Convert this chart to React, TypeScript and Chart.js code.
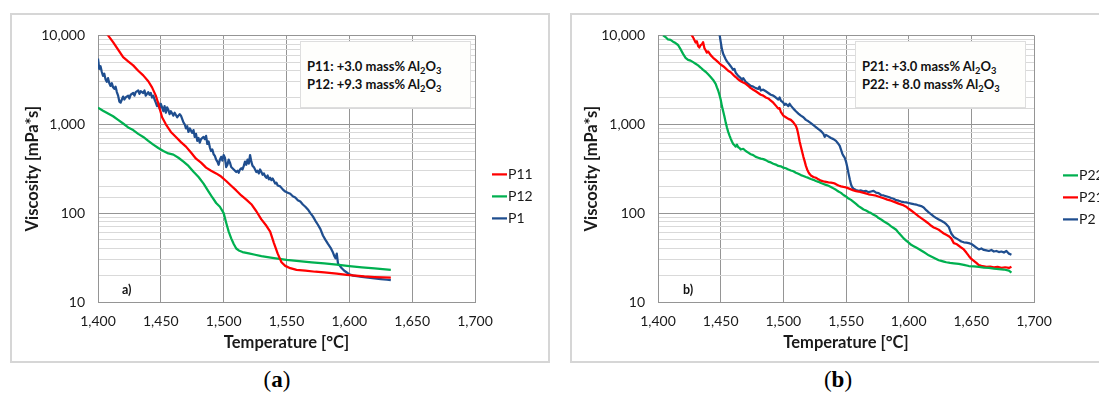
import React, { useEffect, useRef } from 'react';
import { Chart, registerables } from 'chart.js';

Chart.register(...registerables);

// ---------- data (temperature °C, viscosity mPa*s) ----------
const X_TICKS = [1400, 1450, 1500, 1550, 1600, 1650, 1700];
const Y_LABELED = [10, 100, 1000, 10000];

// Panel a)
const P11: [number, number][] = [
  [1405, 11500], [1408, 10000], [1412, 8400], [1416, 6900], [1420, 5700], [1424, 5100], [1428, 4600],
  [1432, 4000], [1436, 3550], [1440, 3050], [1443, 2600], [1446, 2100], [1448, 1700], [1451, 1200],
  [1454, 1000], [1458, 820], [1462, 720], [1466, 630], [1470, 560], [1474, 480], [1478, 410],
  [1482, 370], [1486, 325], [1490, 300], [1494, 280], [1498, 258], [1502, 230], [1506, 203],
  [1510, 180], [1514, 158], [1518, 142], [1522, 126], [1526, 105], [1530, 85], [1534, 72],
  [1537, 62], [1540, 46], [1543, 35], [1546, 28], [1549, 25.5], [1553, 24], [1558, 23],
  [1565, 22.5], [1573, 21.9], [1580, 21.5], [1590, 20.8], [1598, 20.2], [1605, 19.8],
  [1612, 19.4], [1620, 19.1], [1627, 18.9], [1633, 18.8],
];
const P12: [number, number][] = [
  [1400, 1540], [1404, 1420], [1408, 1320], [1412, 1230], [1416, 1120], [1420, 1020], [1424, 920],
  [1428, 860], [1432, 780], [1436, 720], [1440, 650], [1444, 590], [1448, 540], [1452, 500],
  [1456, 470], [1460, 455], [1464, 420], [1468, 380], [1472, 340], [1476, 292], [1480, 255],
  [1484, 215], [1488, 175], [1491, 150], [1494, 130], [1497, 118], [1500, 100], [1502, 78],
  [1504, 62], [1506, 52], [1508, 45], [1510, 40], [1512, 38], [1515, 36.5], [1520, 35.2],
  [1525, 34], [1530, 32.8], [1540, 31.2], [1550, 29.8], [1560, 28.9], [1570, 28], [1580, 27.2],
  [1590, 26.3], [1600, 25.4], [1610, 24.6], [1620, 23.9], [1633, 23],
];
const P1: [number, number][] = [
  [1400, 5480], [1401, 4200], [1402, 4500], [1403, 3900], [1404, 3500], [1405, 3700], [1406, 3200],
  [1407, 3000], [1408, 3300], [1409, 2900], [1410, 2700], [1411, 2900], [1412, 2600], [1413, 2500],
  [1414, 2650], [1415, 2300], [1416, 2100], [1417, 1800], [1418, 1750], [1419, 1900], [1420, 2050],
  [1421, 1900], [1422, 2000], [1424, 2100], [1425, 1950], [1426, 2150], [1428, 2250], [1429, 2100],
  [1430, 2300], [1432, 2400], [1433, 2200], [1434, 2350], [1436, 2250], [1437, 2400], [1438, 2100],
  [1440, 2300], [1441, 2150], [1442, 2250], [1443, 2000], [1444, 2100], [1445, 1900], [1446, 1750],
  [1447, 1600], [1448, 1750], [1449, 1500], [1450, 1700], [1451, 1550], [1452, 1400], [1453, 1600],
  [1454, 1350], [1455, 1550], [1456, 1450], [1457, 1300], [1458, 1400], [1460, 1250], [1461, 1350],
  [1463, 1200], [1465, 1300], [1466, 1250], [1468, 1050], [1469, 1000], [1470, 900], [1471, 950],
  [1472, 820], [1473, 900], [1475, 800], [1476, 860], [1477, 720], [1478, 780], [1479, 650],
  [1480, 700], [1481, 620], [1482, 680], [1484, 720], [1485, 680], [1486, 740], [1487, 600],
  [1488, 640], [1489, 550], [1490, 500], [1491, 520], [1492, 460], [1493, 440], [1494, 400],
  [1495, 380], [1496, 350], [1497, 400], [1498, 430], [1499, 390], [1500, 450], [1501, 420],
  [1502, 330], [1503, 350], [1504, 400], [1505, 370], [1506, 330], [1507, 320], [1508, 310],
  [1510, 290], [1511, 300], [1512, 285], [1513, 310], [1514, 320], [1515, 310], [1516, 340],
  [1517, 380], [1518, 350], [1519, 400], [1520, 360], [1521, 450], [1522, 380], [1523, 340],
  [1524, 330], [1525, 310], [1526, 290], [1527, 300], [1528, 280], [1529, 310], [1530, 290],
  [1531, 270], [1532, 280], [1533, 260], [1534, 250], [1535, 265], [1536, 240], [1537, 250],
  [1538, 235], [1539, 245], [1540, 230], [1541, 215], [1542, 220], [1543, 205], [1545, 200],
  [1547, 185], [1549, 175], [1551, 170], [1553, 165], [1555, 155], [1557, 150], [1559, 140],
  [1561, 135], [1563, 125], [1565, 118], [1567, 110], [1569, 100], [1571, 92], [1573, 82],
  [1575, 74], [1577, 66], [1579, 56], [1581, 50], [1583, 45], [1585, 41], [1587, 36], [1588, 33],
  [1589, 31], [1590, 35], [1591, 27], [1592, 26], [1594, 24], [1596, 22.5], [1598, 21.5],
  [1600, 20.5], [1603, 19.8], [1606, 19.5], [1610, 19.2], [1615, 18.8], [1620, 18.4],
  [1625, 18.1], [1630, 17.8], [1633, 17.6],
];

// Panel b)
const P22: [number, number][] = [
  [1404, 10000], [1406, 9600], [1408, 9000], [1410, 8900], [1412, 8500], [1414, 8200], [1416, 7800],
  [1418, 7000], [1420, 6200], [1422, 5600], [1424, 5300], [1426, 5200], [1428, 5000], [1430, 4800],
  [1432, 4600], [1434, 4350], [1436, 4100], [1438, 3900], [1440, 3650], [1442, 3400], [1444, 3150],
  [1446, 2850], [1447, 2600], [1448, 2400], [1449, 2150], [1450, 1900], [1451, 1600], [1452, 1400],
  [1453, 1220], [1454, 1050], [1455, 920], [1456, 820], [1457, 750], [1458, 690], [1459, 640],
  [1460, 600], [1461, 580], [1462, 560], [1463, 590], [1464, 550], [1465, 540], [1466, 520],
  [1468, 530], [1470, 500], [1472, 480], [1474, 460], [1476, 450], [1478, 430], [1480, 420],
  [1482, 410], [1484, 405], [1486, 395], [1488, 380], [1490, 372], [1492, 360], [1494, 352],
  [1496, 340], [1498, 336], [1500, 325], [1502, 320], [1504, 310], [1506, 302], [1508, 296],
  [1510, 285], [1512, 277], [1514, 268], [1516, 262], [1518, 255], [1520, 249], [1522, 242],
  [1524, 237], [1526, 230], [1528, 225], [1530, 218], [1532, 213], [1534, 208], [1536, 203],
  [1538, 197], [1540, 190], [1542, 183], [1544, 175], [1546, 169], [1548, 160], [1550, 154],
  [1552, 146], [1554, 141], [1556, 134], [1558, 127], [1560, 120], [1562, 115], [1564, 110],
  [1566, 107], [1568, 103], [1570, 100], [1572, 96], [1574, 93], [1576, 88], [1578, 85], [1580, 81],
  [1582, 78], [1584, 75], [1586, 71], [1588, 68], [1590, 65], [1592, 60], [1594, 56], [1596, 52],
  [1598, 49], [1600, 46.5], [1602, 44], [1604, 42.5], [1606, 41], [1608, 39.5], [1610, 38],
  [1612, 36.5], [1614, 35], [1616, 33.5], [1618, 32.5], [1620, 31.5], [1622, 30.5], [1624, 29.5],
  [1626, 29], [1628, 28.5], [1630, 28], [1633, 27.5], [1636, 27.2], [1640, 26.8], [1644, 26.2],
  [1648, 25.4], [1652, 25.2], [1656, 24.8], [1660, 24.4], [1664, 24.2], [1668, 23.8],
  [1672, 23.5], [1676, 23.2], [1680, 22.5], [1682, 21.4],
];
const P21: [number, number][] = [
  [1426, 10500], [1428, 9500], [1430, 8300], [1431, 8600], [1432, 7600], [1433, 7300], [1434, 7800],
  [1435, 7900], [1436, 8400], [1437, 7200], [1438, 6800], [1439, 6400], [1440, 6600], [1442, 6000],
  [1444, 5600], [1446, 5300], [1448, 5000], [1450, 4700], [1452, 4500], [1454, 4250], [1456, 4000],
  [1458, 3850], [1460, 3600], [1462, 3400], [1464, 3200], [1466, 3050], [1468, 2950], [1470, 2850],
  [1472, 2700], [1474, 2550], [1476, 2450], [1478, 2350], [1480, 2250], [1482, 2150], [1484, 2100],
  [1486, 2000], [1488, 1950], [1490, 1850], [1492, 1750], [1494, 1620], [1496, 1500], [1497, 1520],
  [1498, 1380], [1500, 1250], [1502, 1200], [1504, 1150], [1506, 1120], [1508, 1050], [1510, 960],
  [1511, 880], [1512, 760], [1513, 640], [1514, 560], [1515, 490], [1516, 430], [1517, 385],
  [1518, 340], [1519, 310], [1520, 290], [1521, 275], [1522, 265], [1524, 255], [1526, 250],
  [1528, 240], [1530, 232], [1532, 228], [1534, 225], [1536, 222], [1538, 220], [1540, 218],
  [1542, 212], [1544, 205], [1546, 200], [1548, 197], [1550, 195], [1552, 190], [1554, 185],
  [1556, 180], [1558, 177], [1560, 175], [1562, 172], [1565, 168], [1568, 163], [1571, 160],
  [1574, 157], [1577, 152], [1580, 147], [1583, 142], [1586, 138], [1589, 133], [1592, 128],
  [1595, 124], [1598, 118], [1600, 112], [1602, 107], [1604, 102], [1606, 97], [1608, 92],
  [1610, 88], [1612, 84], [1614, 80], [1616, 76], [1618, 72], [1620, 69], [1622, 67], [1624, 65],
  [1626, 62], [1628, 59], [1630, 57], [1632, 55], [1634, 52], [1636, 46], [1638, 45], [1640, 43],
  [1642, 41], [1644, 39], [1646, 36], [1648, 33], [1650, 30.5], [1652, 29], [1654, 27.5],
  [1656, 26], [1658, 25.5], [1660, 25.2], [1662, 24.8], [1665, 25], [1668, 24.5], [1671, 24.8],
  [1674, 24.2], [1677, 24.6], [1680, 24.2], [1682, 25],
];
const P2: [number, number][] = [
  [1449, 10500], [1450, 8500], [1451, 7000], [1452, 6200], [1453, 5800], [1454, 5400], [1455, 5100],
  [1456, 4900], [1458, 4500], [1460, 4100], [1461, 4200], [1462, 3800], [1464, 3500], [1466, 3300],
  [1467, 3150], [1468, 3300], [1470, 3000], [1472, 2850], [1474, 2700], [1476, 2650], [1478, 2550],
  [1480, 2500], [1481, 2650], [1482, 2400], [1484, 2450], [1486, 2350], [1488, 2250], [1490, 2150],
  [1492, 2100], [1494, 2000], [1496, 1900], [1497, 2000], [1498, 1850], [1500, 1750], [1501, 1650],
  [1502, 1700], [1504, 1600], [1505, 1700], [1506, 1620], [1508, 1500], [1510, 1400], [1512, 1320],
  [1514, 1250], [1516, 1200], [1518, 1120], [1520, 1080], [1522, 1030], [1524, 980], [1526, 930],
  [1528, 880], [1530, 840], [1532, 780], [1533, 720], [1534, 760], [1536, 730], [1538, 700],
  [1540, 680], [1542, 650], [1544, 600], [1545, 570], [1546, 520], [1547, 470], [1548, 440],
  [1549, 420], [1550, 380], [1551, 330], [1552, 280], [1553, 240], [1554, 210], [1555, 195],
  [1556, 188], [1558, 182], [1560, 178], [1562, 180], [1564, 176], [1566, 178], [1568, 172],
  [1570, 175], [1572, 178], [1574, 170], [1576, 168], [1578, 160], [1580, 158], [1582, 155],
  [1584, 152], [1586, 148], [1588, 145], [1590, 140], [1592, 138], [1594, 135], [1596, 133],
  [1598, 132], [1600, 130], [1602, 128], [1604, 126], [1606, 125], [1608, 122], [1610, 120],
  [1612, 116], [1614, 108], [1616, 102], [1618, 97], [1620, 92], [1622, 88], [1624, 85], [1626, 82],
  [1628, 79], [1630, 75], [1632, 70], [1633, 64], [1634, 59], [1636, 54], [1638, 52], [1640, 50],
  [1642, 48], [1644, 47], [1646, 46.5], [1648, 46], [1650, 45], [1652, 43], [1654, 41], [1656, 39],
  [1658, 40], [1660, 38.5], [1662, 38], [1664, 37.5], [1666, 38.5], [1668, 37], [1670, 37.5],
  [1672, 36.5], [1674, 37], [1676, 36], [1678, 37.5], [1680, 35], [1682, 34],
];

const RED = '#ff0000';
const GREEN = '#00b050';
const BLUE = '#1f4e8f';

const FONT = "Lato, 'Open Sans', sans-serif";
const MAJOR_GRID = '#959595';
const MINOR_GRID = '#d9d9d9';
const TEXT = '#1a1a1a';

const sideLegend = {
  id: 'sideLegend',
  afterDraw(chart: any, _args: any, opts: any) {
    const { ctx, chartArea } = chart;
    const x0 = chartArea.right + opts.dx;
    ctx.save();
    chart.data.datasets.forEach((ds: any, i: number) => {
      const y = chartArea.top + opts.dy + i * 22;
      ctx.strokeStyle = ds.borderColor;
      ctx.lineWidth = 2.25;
      ctx.beginPath();
      ctx.moveTo(x0, y);
      ctx.lineTo(x0 + 15, y);
      ctx.stroke();
      ctx.fillStyle = TEXT;
      ctx.font = `14px ${FONT}`;
      ctx.textBaseline = 'middle';
      ctx.textAlign = 'left';
      ctx.fillText(ds.label, x0 + 16, y + 0.5);
    });
    ctx.restore();
  },
};

type Series = { label: string; data: [number, number][]; color: string };

function makeConfig(series: Series[], yAxisWidth: number, yTitlePad: number, rightPad: number, legend: { dx: number; dy: number }) {
  return {
    type: 'line' as const,
    data: {
      datasets: series.map((s) => ({
        label: s.label,
        data: s.data.map(([x, y]) => ({ x, y })),
        borderColor: s.color,
        backgroundColor: s.color,
        borderWidth: 2.25,
        pointRadius: 0,
        tension: 0,
        borderJoinStyle: 'round' as const,
      })),
    },
    options: {
      responsive: false,
      animation: false as const,
      devicePixelRatio: 1,
      layout: { padding: { left: 0, top: 12, right: rightPad, bottom: 0 } },
      plugins: {
        legend: { display: false },
        tooltip: { enabled: false },
        sideLegend: legend,
      },
      scales: {
        x: {
          type: 'linear' as const,
          min: X_TICKS[0],
          max: X_TICKS[X_TICKS.length - 1],
          afterBuildTicks: (scale: any) => {
            scale.ticks = X_TICKS.map((v) => ({ value: v }));
          },
          afterFit: (scale: any) => {
            scale.height = 60;
          },
          grid: { color: MAJOR_GRID, lineWidth: 1, drawTicks: false },
          border: { display: true, color: MAJOR_GRID, width: 1 },
          ticks: {
            padding: 11,
            color: TEXT,
            font: { family: FONT, size: 14 },
            maxRotation: 0,
            autoSkip: false,
            callback: (v: any) => Number(v).toLocaleString('en-US'),
          },
          title: {
            display: true,
            text: 'Temperature [°C]',
            color: TEXT,
            font: { family: FONT, size: 16.5, weight: 'bold' as const },
            padding: { top: 0, bottom: 9 },
          },
        },
        y: {
          type: 'logarithmic' as const,
          min: Y_LABELED[0],
          max: Y_LABELED[Y_LABELED.length - 1],
          afterFit: (scale: any) => {
            scale.width = yAxisWidth;
          },
          grid: {
            drawTicks: false,
            lineWidth: 1,
            color: (ctx: any) => (ctx.tick && Y_LABELED.includes(ctx.tick.value) ? MAJOR_GRID : MINOR_GRID),
          },
          border: { display: true, color: MAJOR_GRID, width: 1 },
          ticks: {
            padding: 13,
            color: TEXT,
            autoSkip: false,
            font: { family: FONT, size: 14 },
            callback: (v: any) => (Y_LABELED.includes(Number(v)) ? Number(v).toLocaleString('en-US') : ''),
          },
          title: {
            display: true,
            text: 'Viscosity [mPa*s]',
            color: TEXT,
            font: { family: FONT, size: 16.5, weight: 'bold' as const },
            padding: { top: yTitlePad, bottom: 0 },
          },
        },
      },
    },
    plugins: [sideLegend],
  };
}

function ChartCanvas(props: { series: Series[]; left: number; yAxisWidth: number; yTitlePad: number; rightPad: number; legend: { dx: number; dy: number } }) {
  const ref = useRef<HTMLCanvasElement | null>(null);
  useEffect(() => {
    if (!ref.current) return;
    const chart = new Chart(ref.current, makeConfig(props.series, props.yAxisWidth, props.yTitlePad, props.rightPad, props.legend) as any);
    return () => chart.destroy();
  }, []);
  return (
    <canvas
      ref={ref}
      width={538}
      height={348}
      style={{ position: 'absolute', left: props.left, top: 14, width: 538, height: 348 }}
    />
  );
}

const subStyle: React.CSSProperties = { fontSize: '0.72em', verticalAlign: '-0.3em', lineHeight: 0 };

function NoteBox(props: { left: number; lines: [string, string][] }) {
  return (
    <div
      style={{
        position: 'absolute',
        left: props.left,
        top: 41,
        width: 171,
        height: 67,
        boxSizing: 'border-box',
        background: '#fefefc',
        border: '1px solid #dedede',
        padding: '15px 0 0 6px',
        font: `bold 13px ${FONT}`,
        lineHeight: '18px',
        color: '#111',
        whiteSpace: 'nowrap',
      }}
    >
      {props.lines.map(([a, b], i) => (
        <div key={i}>
          {a}: {b} mass% Al<sub style={subStyle}>2</sub>O<sub style={subStyle}>3</sub>
        </div>
      ))}
    </div>
  );
}

export default function App() {
  const frame: React.CSSProperties = {
    position: 'absolute',
    top: 13,
    height: 350,
    boxSizing: 'border-box',
    border: '2px solid #d6d6d6',
  };
  const caption: React.CSSProperties = {
    position: 'absolute',
    top: 366,
    width: 100,
    textAlign: 'center',
    font: "23px 'Liberation Serif', 'DejaVu Serif', serif",
    lineHeight: '28px',
    color: '#000',
  };
  const panelLabel: React.CSSProperties = {
    position: 'absolute',
    top: 281,
    font: `bold 12.5px ${FONT}`,
    lineHeight: '18px',
    color: '#111',
  };
  return (
    <div style={{ position: 'fixed', left: 0, top: 0, width: 1099, height: 395, overflow: 'hidden', background: '#fff' }}>
      <div style={{ ...frame, left: 10, width: 540 }} />
      <div style={{ ...frame, left: 570, width: 600 }} />
      <ChartCanvas
        left={11}
        yAxisWidth={87}
        yTitlePad={12}
        rightPad={74}
        legend={{ dx: 17, dy: 139 }}
        series={[
          { label: 'P11', data: P11, color: RED },
          { label: 'P12', data: P12, color: GREEN },
          { label: 'P1', data: P1, color: BLUE },
        ]}
      />
      <ChartCanvas
        left={572}
        yAxisWidth={86}
        yTitlePad={10}
        rightPad={76}
        legend={{ dx: 29, dy: 140 }}
        series={[
          { label: 'P22', data: P22, color: GREEN },
          { label: 'P21', data: P21, color: RED },
          { label: 'P2', data: P2, color: BLUE },
        ]}
      />
      <NoteBox left={300} lines={[['P11', '+3.0'], ['P12', '+9.3']]} />
      <NoteBox left={855} lines={[['P21', '+3.0'], ['P22', '+ 8.0']]} />
      <div style={{ ...panelLabel, left: 122 }}>a)</div>
      <div style={{ ...panelLabel, left: 683 }}>b)</div>
      <div style={{ ...caption, left: 227 }}>
        (<b>a</b>)
      </div>
      <div style={{ ...caption, left: 788 }}>
        (<b>b</b>)
      </div>
    </div>
  );
}
